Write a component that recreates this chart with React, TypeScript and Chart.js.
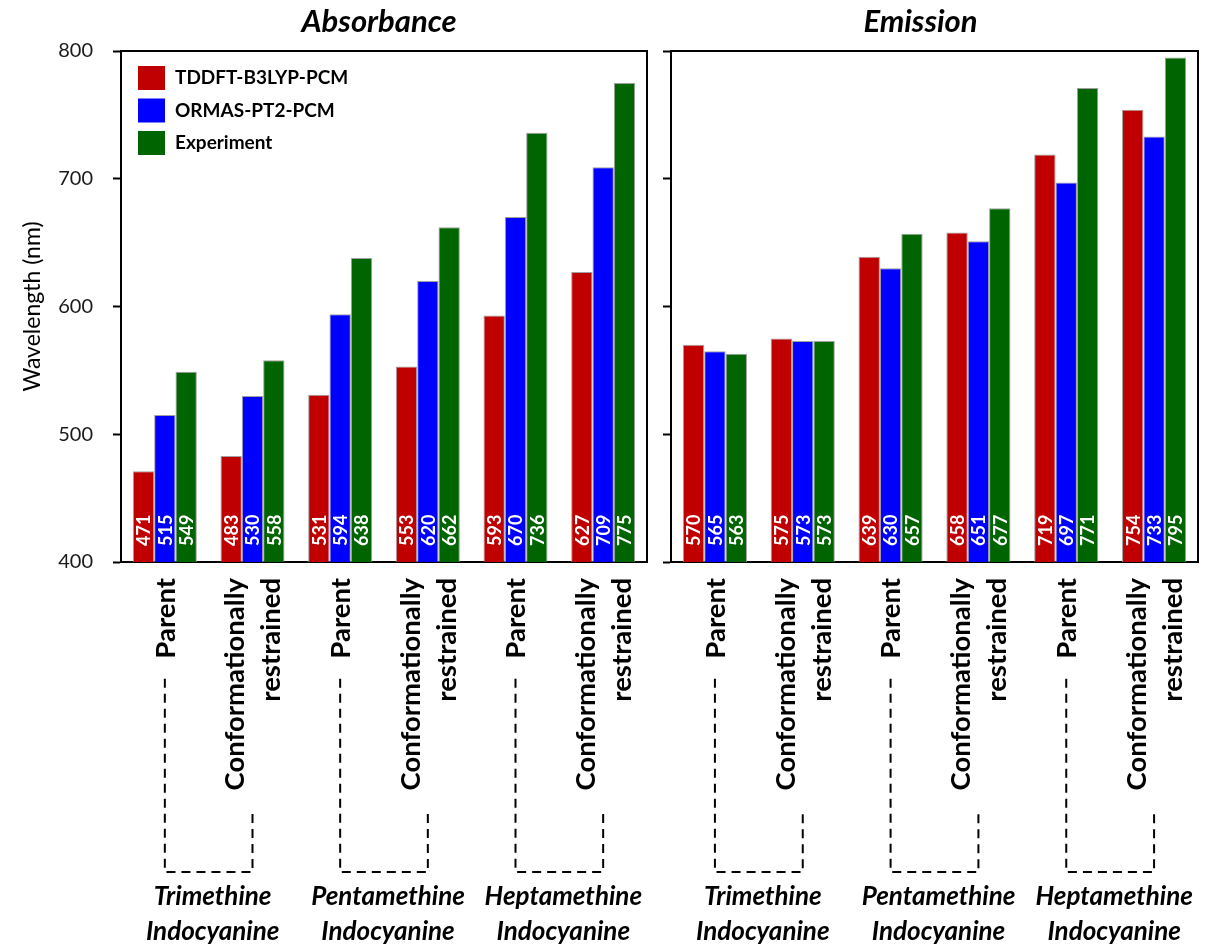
import { useEffect, useRef } from 'react';
import { Chart, registerables } from 'chart.js';

Chart.register(...registerables);

const categories = [
  'Trimethine Parent',
  'Trimethine Conformationally restrained',
  'Pentamethine Parent',
  'Pentamethine Conformationally restrained',
  'Heptamethine Parent',
  'Heptamethine Conformationally restrained',
];
const tickLabels: string[][] = [
  ['Parent'],
  ['Conformationally', 'restrained'],
  ['Parent'],
  ['Conformationally', 'restrained'],
  ['Parent'],
  ['Conformationally', 'restrained'],
];
const groupLabels: string[][] = [
  ['Trimethine', 'Indocyanine'],
  ['Pentamethine', 'Indocyanine'],
  ['Heptamethine', 'Indocyanine'],
];
const seriesNames = ['TDDFT-B3LYP-PCM', 'ORMAS-PT2-PCM', 'Experiment'];
const seriesColors = ['#C00000', '#0000FF', '#006400'];

const absTDDFT = [471, 483, 531, 553, 593, 627];
const absORMAS = [515, 530, 594, 620, 670, 709];
const absExp = [549, 558, 638, 662, 736, 775];

const emTDDFT = [570, 575, 639, 658, 719, 754];
const emORMAS = [565, 573, 630, 651, 697, 733];
const emExp = [563, 573, 657, 677, 771, 795];

const yMin = 400;
const yMax = 800;
const yStep = 100;

const FONT = 'Lato, "Open Sans", "Liberation Sans", sans-serif';

const decorPlugin = {
  id: 'decor',
  afterDatasetsDraw(chart: any, _args: any, opts: any) {
    const ctx = chart.ctx;
    const { left, right, top, bottom } = chart.chartArea;
    // value labels inside bars
    ctx.save();
    ctx.fillStyle = '#ffffff';
    ctx.font = `bold 18px ${FONT}`;
    ctx.textAlign = 'left';
    ctx.textBaseline = 'middle';
    chart.data.datasets.forEach((ds: any, d: number) => {
      const meta = chart.getDatasetMeta(d);
      meta.data.forEach((el: any, i: number) => {
        ctx.save();
        ctx.translate(el.x, bottom - 16);
        ctx.rotate(-Math.PI / 2);
        ctx.fillText(String(ds.data[i]), 0, 1);
        ctx.restore();
      });
    });
    ctx.restore();

    // frame top and right
    ctx.save();
    ctx.strokeStyle = '#000';
    ctx.lineWidth = 2;
    ctx.beginPath();
    ctx.moveTo(left - 1, top);
    ctx.lineTo(right, top);
    ctx.lineTo(right, bottom);
    ctx.stroke();
    ctx.restore();

    // legend
    if (opts.legend) {
      ctx.save();
      ctx.font = `bold 19px ${FONT}`;
      ctx.textBaseline = 'middle';
      ctx.textAlign = 'left';
      chart.data.datasets.forEach((ds: any, d: number) => {
        const bx = left + 17;
        const by = top + 15 + d * 32.5;
        ctx.fillStyle = ds.backgroundColor;
        ctx.fillRect(bx, by, 27, 24);
        ctx.fillStyle = '#000';
        ctx.fillText(ds.label, bx + 27 + 10, by + 12);
      });
      ctx.restore();
    }
  },
  afterDraw(chart: any, _args: any, opts: any) {
    const ctx = chart.ctx;
    const { left, right, top, bottom } = chart.chartArea;
    const xs = chart.scales.x;

    // panel title
    ctx.save();
    ctx.fillStyle = '#000';
    ctx.font = `italic bold 31px ${FONT}`;
    ctx.textAlign = 'center';
    ctx.textBaseline = 'middle';
    ctx.fillText(opts.title, (left + right) / 2 + opts.titleShift, top - 29);
    ctx.restore();

    // rotated category labels
    const labelTop = bottom + 16;
    const lh = 36;
    ctx.save();
    ctx.fillStyle = '#000';
    ctx.font = `bold 27.5px ${FONT}`;
    ctx.textAlign = 'right';
    ctx.textBaseline = 'middle';
    const lens: number[] = [];
    tickLabels.forEach((lines, i) => {
      const px = xs.getPixelForTick(i);
      let maxW = 0;
      lines.forEach((line, j) => {
        const x = px + (j - (lines.length - 1) / 2) * lh;
        maxW = Math.max(maxW, ctx.measureText(line).width);
        ctx.save();
        ctx.translate(x, labelTop);
        ctx.rotate(-Math.PI / 2);
        ctx.fillText(line, 0, 1);
        ctx.restore();
      });
      lens.push(maxW);
    });
    ctx.restore();

    // dashed brackets and group labels
    const yBottom = bottom + 310;
    groupLabels.forEach((lines, g) => {
      const iP = 2 * g;
      const iR = 2 * g + 1;
      const xL = xs.getPixelForTick(iP);
      const xR = xs.getPixelForTick(iR);
      ctx.save();
      ctx.strokeStyle = '#000';
      ctx.lineWidth = 2;
      ctx.setLineDash([9, 6]);
      ctx.beginPath();
      ctx.moveTo(xL, labelTop + lens[iP] + 20);
      ctx.lineTo(xL, yBottom);
      ctx.lineTo(xR, yBottom);
      ctx.lineTo(xR, labelTop + lens[iR] + 20);
      ctx.stroke();
      ctx.restore();

      ctx.save();
      ctx.fillStyle = '#000';
      ctx.font = `italic bold 26px ${FONT}`;
      ctx.textAlign = 'center';
      ctx.textBaseline = 'middle';
      lines.forEach((line, j) => {
        ctx.fillText(line, (xL + xR) / 2 + 4, bottom + 335 + j * 35);
      });
      ctx.restore();
    });
  },
};

function makeConfig(
  values: number[][],
  title: string,
  isLeft: boolean,
  titleShift: number,
  padRight: number
): any {
  return {
    type: 'bar',
    data: {
      labels: categories,
      datasets: values.map((v, i) => ({
        label: seriesNames[i],
        data: v,
        backgroundColor: seriesColors[i],
        borderColor: 'rgba(150,150,150,0.9)',
        borderWidth: 1,
        categoryPercentage: 0.73,
        barPercentage: 1.0,
      })),
    },
    options: {
      responsive: false,
      animation: false,
      layout: { padding: { left: 0, top: 51, right: padRight, bottom: 0 } },
      plugins: {
        legend: { display: false },
        tooltip: { enabled: false },
        decor: { title, titleShift, legend: isLeft },
      },
      scales: {
        x: {
          type: 'category',
          grid: { display: false, drawTicks: false },
          border: { display: true, color: '#000', width: 2 },
          ticks: { display: false },
          afterFit: (s: any) => {
            s.height = 383;
          },
        },
        y: {
          min: yMin,
          max: yMax,
          grid: {
            display: true,
            drawOnChartArea: false,
            drawTicks: true,
            tickLength: 8,
            tickColor: '#000',
            tickWidth: 2,
          },
          border: { display: true, color: '#000', width: 2 },
          ticks: {
            display: isLeft,
            stepSize: yStep,
            padding: 20,
            color: '#1a1a1a',
            font: { family: FONT, size: 20 },
          },
          title: {
            display: isLeft,
            text: 'Wavelength (nm)',
            color: '#000',
            font: { family: FONT, size: 23 },
            padding: { top: 19, bottom: 0 },
          },
          afterFit: (s: any) => {
            s.width = isLeft ? 121 : 11;
          },
        },
      },
    },
    plugins: [decorPlugin],
  };
}

export default function App() {
  const leftRef = useRef<HTMLCanvasElement>(null);
  const rightRef = useRef<HTMLCanvasElement>(null);

  useEffect(() => {
    const c1 = new Chart(
      leftRef.current as HTMLCanvasElement,
      makeConfig([absTDDFT, absORMAS, absExp], 'Absorbance', true, -5, 13)
    );
    const c2 = new Chart(
      rightRef.current as HTMLCanvasElement,
      makeConfig([emTDDFT, emORMAS, emExp], 'Emission', false, -14, 27)
    );
    return () => {
      c1.destroy();
      c2.destroy();
    };
  }, []);

  return (
    <div
      style={{
        position: 'fixed',
        left: 0,
        top: 0,
        width: 1225,
        height: 945,
        background: '#fff',
      }}
    >
      <canvas
        ref={leftRef}
        width={660}
        height={945}
        style={{ position: 'absolute', left: 0, top: 0, display: 'block' }}
      />
      <canvas
        ref={rightRef}
        width={565}
        height={945}
        style={{ position: 'absolute', left: 660, top: 0, display: 'block' }}
      />
    </div>
  );
}
